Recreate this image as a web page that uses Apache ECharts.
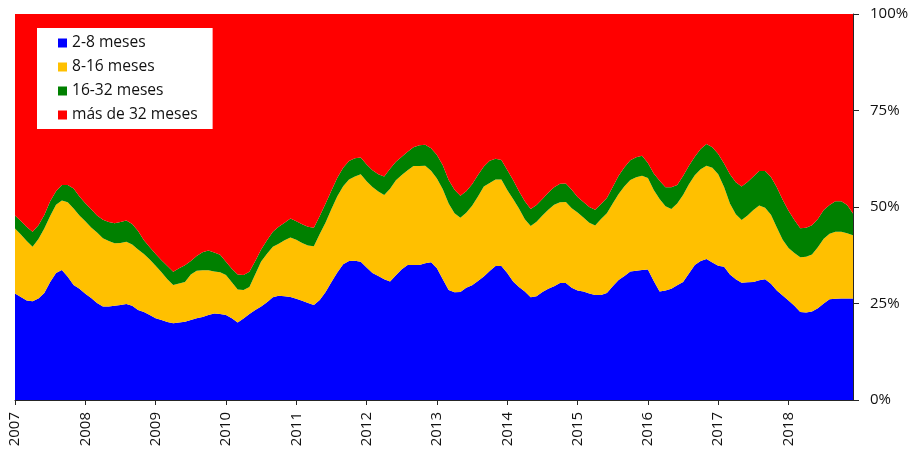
<!DOCTYPE html>
<html>
<head>
<meta charset="utf-8">
<title>Distribución por plazo</title>
<script src="https://cdn.jsdelivr.net/npm/echarts@6/dist/echarts.min.js"></script>
<style>
  html, body { margin: 0; padding: 0; background: #ffffff; }
  #chart { width: 914px; height: 453px; }
</style>
</head>
<body>
<div id="chart"></div>
<script>
// Monthly series, January 2007 to December 2018 (shares in %).
const years = ['2007','2008','2009','2010','2011','2012','2013','2014','2015','2016','2017','2018'];
const seriesNames = ['2-8 meses', '8-16 meses', '16-32 meses', 'más de 32 meses'];
const yTicks = [0, 25, 50, 75, 100];

const meses2a8 = [
  27.6,26.7,25.8,25.6,26.3,27.7,30.6,32.9,33.7,31.9,29.8,28.8,
  27.5,26.4,25.1,24.2,24.2,24.4,24.6,24.9,24.4,23.3,22.8,22.0,
  21.2,20.7,20.2,19.9,20.1,20.3,20.7,21.2,21.5,22.0,22.4,22.3,
  22.0,21.2,20.1,21.1,22.3,23.3,24.2,25.3,26.6,27.0,26.9,26.7,
  26.2,25.7,25.1,24.6,25.9,28.0,30.6,33.0,35.2,36.0,36.1,35.8,
  34.3,32.9,32.1,31.3,30.7,32.3,33.9,35.0,35.0,35.0,35.4,35.7,
  34.1,31.3,28.5,27.9,28.0,29.1,29.7,30.8,32.0,33.4,34.7,34.7,
  32.9,30.7,29.3,28.1,26.6,26.9,28.0,28.8,29.5,30.3,30.3,29.1,
  28.4,28.1,27.6,27.2,27.2,27.7,29.5,31.1,32.1,33.3,33.5,33.7,
  33.8,30.8,28.1,28.4,28.8,29.7,30.6,32.8,35.0,36.0,36.5,35.6,
  34.8,34.5,32.5,31.3,30.4,30.5,30.6,31.0,31.3,30.1,28.4,27.1,
  25.8,24.4,22.8,22.7,22.9,23.8,25.0,26.1,26.2,26.3,26.3,26.3
];
const meses8a16 = [
  16.8,16.2,15.4,14.1,15.4,16.7,17.1,17.7,18.0,19.3,19.8,19.0,
  18.8,18.3,18.3,17.7,17.0,16.2,16.1,16.1,15.9,15.7,15.0,14.4,
  13.6,12.4,11.1,9.9,10.1,10.3,11.8,12.3,12.1,11.6,10.9,10.8,
  10.4,9.3,8.5,7.4,7.0,9.3,11.7,12.6,13.1,13.5,14.5,15.4,
  15.3,15.0,14.9,15.2,17.1,18.0,18.9,19.8,20.2,21.1,21.8,22.7,
  22.4,22.3,21.9,21.8,24.0,24.6,24.4,24.5,25.6,25.6,25.3,23.7,
  23.3,23.3,22.4,20.5,19.2,19.4,20.6,21.9,23.3,22.8,22.4,22.4,
  21.5,21.4,20.3,18.7,18.5,19.3,19.8,20.5,21.1,20.9,21.0,20.6,
  20.2,19.2,18.3,18.0,19.7,20.7,21.4,22.3,23.3,23.7,24.2,24.4,
  23.7,23.6,24.0,21.8,20.7,21.2,22.5,23.1,23.2,23.8,24.2,24.6,
  23.7,20.7,18.4,16.8,16.2,17.3,18.6,19.4,18.5,17.9,16.3,14.4,
  13.6,13.7,14.2,14.4,14.8,15.8,16.8,17.0,17.4,17.3,16.9,16.4
];
const meses16a32 = [
  3.4,3.5,3.6,3.9,3.6,3.5,3.8,3.5,4.0,4.5,5.2,4.9,
  4.7,4.7,4.4,4.8,4.9,5.2,5.4,5.5,5.3,4.8,3.6,3.2,
  3.0,3.1,3.4,3.4,3.9,4.3,3.5,3.8,4.7,5.1,4.9,4.5,
  3.4,3.5,3.9,3.9,3.9,3.4,3.1,3.5,3.9,4.4,4.5,4.9,
  4.8,4.8,4.9,4.8,4.7,4.9,4.8,4.8,4.8,4.8,4.7,4.3,
  4.3,4.3,4.5,4.8,5.2,4.8,4.7,4.8,4.9,5.4,5.4,5.8,
  6.1,6.2,6.1,6.1,5.7,5.6,5.6,5.6,5.2,5.8,5.4,5.1,
  5.2,4.9,4.5,4.7,4.4,4.3,4.3,4.4,4.5,4.8,4.8,4.8,
  4.0,4.0,4.1,4.1,3.9,3.9,4.3,4.7,4.9,5.1,5.2,5.2,
  3.9,4.3,4.7,4.9,5.6,4.8,4.9,4.8,4.8,5.2,5.6,5.3,
  5.2,6.1,7.6,8.3,8.7,8.7,8.7,8.9,9.5,9.8,10.4,10.4,
  9.6,8.5,7.5,7.5,7.6,7.3,7.4,7.4,7.9,7.9,7.3,5.6
];
const masDe32 = [
  52.2,53.6,55.2,56.4,54.7,52.1,48.5,45.9,44.3,44.3,45.2,47.3,
  49.0,50.6,52.2,53.3,53.9,54.2,53.9,53.5,54.4,56.2,58.6,60.4,
  62.2,63.8,65.3,66.8,65.9,65.1,64.0,62.7,61.7,61.3,61.8,62.4,
  64.2,66.0,67.5,67.6,66.8,64.0,61.0,58.6,56.4,55.1,54.1,53.0,
  53.7,54.5,55.1,55.4,52.3,49.1,45.7,42.4,39.8,38.1,37.4,37.2,
  39.0,40.5,41.5,42.1,40.1,38.3,37.0,35.7,34.5,34.0,33.9,34.8,
  36.5,39.2,43.0,45.5,47.1,45.9,44.1,41.7,39.5,38.0,37.5,37.8,
  40.4,43.0,45.9,48.5,50.5,49.5,47.9,46.3,44.9,44.0,43.9,45.5,
  47.4,48.7,50.0,50.7,49.2,47.7,44.8,41.9,39.7,37.9,37.1,36.7,
  38.6,41.3,43.2,44.9,44.9,44.3,42.0,39.3,37.0,35.0,33.7,34.5,
  36.3,38.7,41.5,43.6,44.7,43.5,42.1,40.7,40.7,42.2,44.9,48.1,
  51.0,53.4,55.5,55.4,54.7,53.1,50.8,49.5,48.5,48.5,49.5,51.7
];

// One category per month; the year is shown on each January.
const categories = [];
years.forEach(function (y) {
  for (let m = 1; m <= 12; m++) {
    categories.push(y + '-' + (m < 10 ? '0' + m : m));
  }
});

const colors = ['#0000ff', '#ffc000', '#008000', '#ff0000'];
const values = [meses2a8, meses8a16, meses16a32, masDe32];
const textColor = '#111111';
const fontFamily = '"Open Sans", "Liberation Sans", sans-serif';

const chart = echarts.init(document.getElementById('chart'), null, { renderer: 'canvas' });

chart.setOption({
  animation: false,
  backgroundColor: '#ffffff',
  color: colors,
  grid: { left: 15, right: 61, top: 14, bottom: 53, containLabel: false },
  legend: {
    data: seriesNames,
    orient: 'vertical',
    left: 37,
    top: 28,
    backgroundColor: '#ffffff',
    padding: [6, 15, 5, 21],
    itemWidth: 9,
    itemHeight: 9,
    itemGap: 6,
    icon: 'rect',
    textStyle: { color: textColor, fontSize: 15.6, fontFamily: fontFamily, lineHeight: 18 }
  },
  xAxis: {
    type: 'category',
    data: categories,
    boundaryGap: false,
    axisLine: { show: true, lineStyle: { color: '#262626', width: 1 } },
    axisTick: {
      show: true,
      length: 5,
      lineStyle: { color: '#262626' },
      interval: function (index) { return index % 12 === 0; }
    },
    axisLabel: {
      interval: function (index) { return index % 12 === 0; },
      formatter: function (value) { return value.slice(0, 4); },
      rotate: 90,
      margin: 12,
      color: textColor,
      fontSize: 15,
      fontFamily: fontFamily
    },
    splitLine: { show: false }
  },
  yAxis: {
    type: 'value',
    position: 'right',
    min: yTicks[0],
    max: yTicks[yTicks.length - 1],
    interval: 25,
    axisLine: { show: true, lineStyle: { color: '#262626', width: 1 } },
    axisTick: { show: true, length: 6, lineStyle: { color: '#262626' } },
    axisLabel: {
      formatter: '{value}%',
      margin: 17,
      color: textColor,
      fontSize: 15,
      fontFamily: fontFamily
    },
    splitLine: { show: false }
  },
  series: seriesNames.map(function (name, i) {
    return {
      name: name,
      type: 'line',
      stack: 'total',
      data: values[i],
      symbol: 'none',
      showSymbol: false,
      smooth: false,
      lineStyle: { width: 0 },
      areaStyle: { color: colors[i], opacity: 1 },
      itemStyle: { color: colors[i] },
      emphasis: { disabled: true },
      z: 2
    };
  })
});
</script>
</body>
</html>
